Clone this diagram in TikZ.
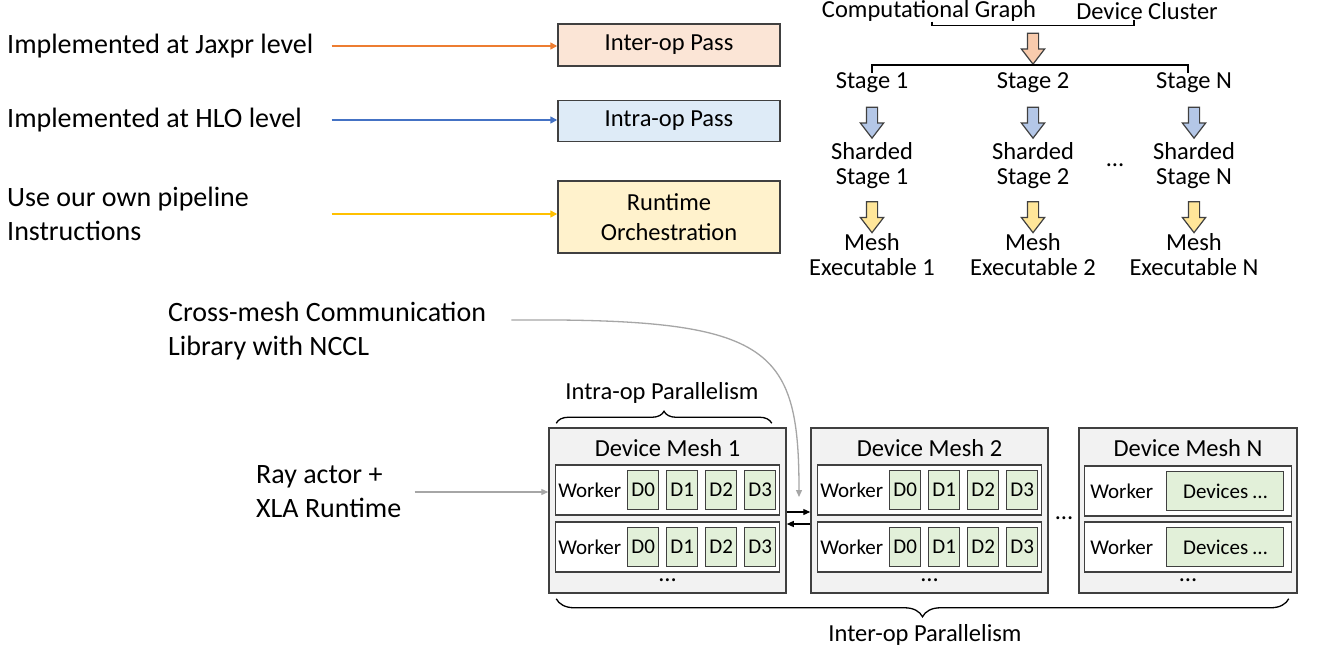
\documentclass[tikz,border=0pt]{standalone}
\usepackage{fontspec}
\setmainfont{Carlito}
\usetikzlibrary{positioning,arrows.meta,shapes.arrows,decorations.pathreplacing}
\definecolor{PassOrange}{HTML}{FBE5D6}
\definecolor{PassBlue}{HTML}{DEEBF7}
\definecolor{PassYellow}{HTML}{FFF2CC}
\definecolor{LineOrange}{HTML}{ED7D31}
\definecolor{LineBlue}{HTML}{4472C4}
\definecolor{LineYellow}{HTML}{FFC000}
\definecolor{ArrOrange}{HTML}{F8CBAD}
\definecolor{ArrBlue}{HTML}{B4C7E7}
\definecolor{ArrYellow}{HTML}{FFE699}
\definecolor{MeshGray}{HTML}{F2F2F2}
\definecolor{DevGreen}{HTML}{E2F0D9}
\definecolor{EdgeGray}{HTML}{404040}
\definecolor{PointerGray}{HTML}{A6A6A6}

\begin{document}
\begin{tikzpicture}[
  x=1pt,y=-1pt,
  txt/.style={inner sep=0pt,align=center,font=\fontsize{24.5}{25}\selectfont},
  big/.style={inner sep=0pt,align=left,font=\fontsize{28}{34}\selectfont},
  small/.style={inner sep=0pt,font=\fontsize{21}{25}\selectfont},
  pass/.style={draw=EdgeGray,line width=1.5pt,minimum width=222pt,align=center,font=\fontsize{24.5}{30}\selectfont},
  blockarr/.style={single arrow,draw=EdgeGray,line width=1.2pt,rotate=-90,minimum height=31pt,minimum width=22pt,inner sep=0pt,inner ysep=5pt,single arrow head extend=6pt,single arrow tip angle=75},
  brk/.style={line width=1.3pt},
  mesh/.style={draw=EdgeGray,fill=MeshGray,line width=1.5pt,minimum height=165pt},
  meshrow/.style={draw=EdgeGray,fill=white,line width=1.5pt,minimum height=50pt},
  dev/.style={draw=EdgeGray,fill=DevGreen,line width=1.2pt,minimum width=31pt,minimum height=39pt,inner sep=0pt,font=\fontsize{21}{25}\selectfont},
  arr/.style={-{Triangle[length=7pt,width=7pt]},line width=1.5pt},
  ptr/.style={-{Triangle[length=7pt,width=6pt]},line width=1.3pt,PointerGray},
  xfer/.style={-{Triangle[length=7pt,width=6pt]},line width=1.2pt}
]
\path[use as bounding box,fill=white] (0,0) rectangle (1321,654);

% compiler passes
\node[pass,fill=PassOrange,minimum height=42pt] (interop) at (669,45) {Inter-op Pass};
\node[pass,fill=PassBlue,minimum height=41pt,below=33pt of interop] (intraop) {Intra-op Pass};
\node[pass,fill=PassYellow,minimum height=72pt,below=38pt of intraop] (runtime) {Runtime\\Orchestration};
\node[big,anchor=west] (jaxpr) at (7,46) {Implemented at Jaxpr level};
\node[big,anchor=west] (hlo) at (7,120) {Implemented at HLO level};
\node[big,anchor=west] (pipe) at (7,214) {Use our own pipeline\\Instructions};
\draw[arr,LineOrange,shorten <=18pt] (jaxpr.east) -- (jaxpr.east -| interop.west);
\draw[arr,LineBlue,shorten <=18pt] (jaxpr.east |- hlo) -- (hlo -| intraop.west);
\draw[arr,LineYellow,shorten <=18pt] (jaxpr.east |- pipe) -- (pipe -| runtime.west);

% stage splitting
\node[txt] (graph) at (929,11) {Computational Graph};
\node[txt] (cluster) at (1147,11) {Device Cluster};
\node[blockarr,fill=ArrOrange] (split) at (1033,45) {};
\draw[brk] ([xshift=3pt]graph.south) -- ++(0,4) -| ([xshift=-13pt]cluster.south);
\foreach \c/\x/\n in {1/872/1,2/1033/2,3/1194/N}{
  \node[txt] (stage\c) at (\x,83) {Stage \n};
  \node[blockarr,fill=ArrBlue] (shard\c) at (\x,119) {};
  \node[txt] (sharded\c) at (\x,166) {Sharded\\Stage \n};
  \node[blockarr,fill=ArrYellow] (compile\c) at (\x,213.5) {};
  \node[txt] (exec\c) at (\x,255) {Mesh\\Executable \n};
}
\draw[brk] (stage1.north) |- (split.tip) -| ([xshift=-6pt]stage3.north);
\node[txt] (stagedots) at (1115,165) {…};

% device meshes
\node[mesh,minimum width=237pt] (mesh1) at (667.5,510.5) {};
\node[mesh,minimum width=237pt,right=23.5pt of mesh1] (mesh2) {};
\node[mesh,minimum width=218pt,right=29.5pt of mesh2] (meshN) {};
\foreach \m in {1,2}{
  \node[txt] (title\m) at ([yshift=-21pt]mesh\m.north) {Device Mesh \m};
  \foreach \r/\ry in {1/490,2/547}{
    \node[meshrow,minimum width=224pt] (row\m\r) at (mesh\m |- 0,\ry) {};
    \node[small] (worker\m\r) at ([xshift=35pt]row\m\r.west) {Worker};
    \foreach \d/\dx in {0/88.5,1/127.5,2/166.5,3/205.5}
      \node[dev] (dev\m\r\d) at ([xshift=\dx pt]row\m\r.west) {D\d};
  }
  \node[txt] (more\m) at (mesh\m |- 0,580) {…};
}
\node[txt] (titleN) at ([yshift=-21pt]meshN.north) {Device Mesh N};
\foreach \r/\ry in {1/491,2/547}{
  \node[meshrow,minimum width=207pt] (rowN\r) at (meshN |- 0,\ry) {};
  \node[small] (workerN\r) at ([xshift=38pt]rowN\r.west) {Worker};
  \node[dev,minimum width=117pt] (devN\r) at ([xshift=141.5pt]rowN\r.west) {Devices …};
}
\node[txt] (moreN) at (meshN |- 0,580) {…};
\node[txt] (meshdots) at (1064,518) {…};
\draw[xfer] ([yshift=-1.5pt]mesh1.east) -- ([yshift=-1.5pt]mesh2.west);
\draw[xfer] ([yshift=-13.5pt]mesh2.west) -- ([yshift=-13.5pt]mesh1.east);

% parallelism braces
\draw[brk,decorate,decoration={brace,amplitude=12pt}] ([xshift=8pt,yshift=4pt]mesh1.north west) -- ([xshift=-15pt,yshift=4pt]mesh1.north east);
\node[txt] (intralbl) at (662,393) {Intra-op Parallelism};
\draw[brk,decorate,decoration={brace,amplitude=18pt}] ([xshift=-9pt,yshift=-5pt]meshN.south east) -- ([xshift=8pt,yshift=-5pt]mesh1.south west);
\node[txt] (interlbl) at (925,635) {Inter-op Parallelism};

% runtime side
\node[big,anchor=west] (crossmesh) at (168,331) {Cross-mesh Communication\\Library with NCCL};
\coordinate (meshgap) at (799,497);
\draw[ptr] ([xshift=25pt,yshift=11pt]crossmesh.east) .. controls (770,318) and (799,345) .. (meshgap);
\node[big,anchor=west] (ray) at (256,492) {Ray actor +\\XLA Runtime};
\draw[ptr,shorten <=13pt] (ray.east) -- (ray.east -| mesh1.west);
\end{tikzpicture}
\end{document}
